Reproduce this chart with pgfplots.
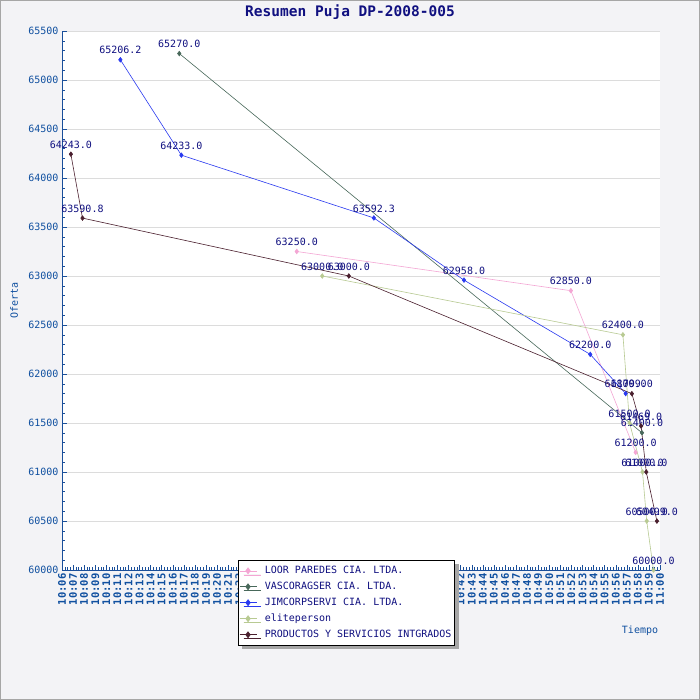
\documentclass[border=0pt]{standalone}
\usepackage{pgfplots}
\pgfplotsset{compat=1.18}
\usepackage{fontspec}
\setmainfont{DejaVu Sans Mono}
\usetikzlibrary{shadows}
\definecolor{bgc}{HTML}{F3F3F6}
\definecolor{axc}{HTML}{1A4F9A}
\definecolor{tlc}{HTML}{1050A0}
\definecolor{navy}{HTML}{101080}
\definecolor{gridc}{HTML}{DCDCDC}
\definecolor{cloor}{HTML}{F4A6D4}
\definecolor{cvasco}{HTML}{48685A}
\definecolor{cjim}{HTML}{2A3AF0}
\definecolor{celite}{HTML}{B8CA92}
\definecolor{cprod}{HTML}{4A1F2E}
\begin{document}
\begin{tikzpicture}[x=1pt,y=1pt]
\fill[bgc] (0,0) rectangle (700,700);
\useasboundingbox (0,0) rectangle (700,700);
\draw[gray!70,line width=0.8pt] (0.4,0.4) rectangle (699.6,699.6);
\begin{axis}[
  at={(62pt,130pt)}, anchor=south west,
  scale only axis, width=598pt, height=539pt,
  axis background/.style={fill=white},
  xmin=6, xmax=60, ymin=60000, ymax=65500,
  axis x line*=bottom, axis y line*=left,
  axis line style={draw=axc, line width=0.8pt},
  every tick/.style={draw=axc},
  tick align=inside,
  major tick length=5pt, minor tick length=2.5pt,
  xtick={6,...,60},
  xticklabels={10:06,10:07,10:08,10:09,10:10,10:11,10:12,10:13,10:14,10:15,10:16,10:17,10:18,10:19,10:20,10:21,10:22,10:23,10:24,10:25,10:26,10:27,10:28,10:29,10:30,10:31,10:32,10:33,10:34,10:35,10:36,10:37,10:38,10:39,10:40,10:41,10:42,10:43,10:44,10:45,10:46,10:47,10:48,10:49,10:50,10:51,10:52,10:53,10:54,10:55,10:56,10:57,10:58,10:59,11:00},
  minor x tick num=3,
  ytick={60000,60500,...,65500},
  scaled y ticks=false,
  minor y tick num=4,
  ymajorgrids, major grid style={draw=gridc, line width=0.8pt},
  x tick label style={rotate=90, anchor=east, font=\fontsize{10.5}{12}\selectfont\bfseries, text=tlc},
  y tick label style={font=\fontsize{10}{12}\selectfont, text=tlc},
  /pgf/number format/fixed,
  /pgf/number format/set thousands separator={},
  /pgf/number format/assume math mode=true,
  xlabel={Tiempo},
  xlabel style={at={(axis description cs:0.9666,-0.113)}, anchor=center, font=\fontsize{10}{12}\selectfont, text=tlc},
  ylabel={Oferta},
  ylabel style={at={(axis description cs:-0.08,0.5)}, anchor=center, font=\fontsize{10}{12}\selectfont, text=tlc},
  title={\textbf{Resumen Puja DP-2008-005}},
  every axis title shift=0pt,
  title style={at={(axis description cs:0.4816,1.0353)}, anchor=center, yshift=0pt, font=\fontsize{14.5}{16}\selectfont, text=navy},
  clip=false,
  every axis plot/.append style={line width=0.6pt, mark=diamond*, mark size=2.3pt},
  nodes near coords={\pgfmathprintnumber[fixed,fixed zerofill,precision=1,set thousands separator={},assume math mode=true]{\pgfplotspointmeta}},
  every node near coord/.style={anchor=south, font=\fontsize{10}{12}\selectfont, text=navy, inner sep=1pt, yshift=4.5pt},
  legend image post style={mark size=3pt},
  legend style={at={(axis description cs:0.294,0.0186)}, anchor=north west, draw=black, line width=0.8pt, fill=white, font=\fontsize{10}{12}\selectfont, text=navy, legend cell align=left, row sep=3pt, inner xsep=1pt, inner ysep=4pt, /tikz/every odd column/.style={column sep=6pt}, /tikz/every even column/.style={column sep=12pt}, drop shadow={shadow xshift=4pt, shadow yshift=-4pt, fill=gray!70, opacity=1}},
]
\addplot[color=cloor, mark options={fill=cloor}] coordinates {(27.2,63250) (51.95,62850) (57.8,61200)};
\addlegendentry{LOOR PAREDES CIA. LTDA.}
\addplot[color=cvasco, mark options={fill=cvasco}] coordinates {(16.59,65270) (58.37,61400)};
\addlegendentry{VASCORAGSER CIA. LTDA.}
\addplot[color=cjim, mark options={fill=cjim}] coordinates {(11.27,65206.2) (16.78,64233) (34.16,63592.3) (42.3,62958) (53.7,62200) (56.9,61800)};
\addlegendentry{JIMCORPSERVI CIA. LTDA.}
\addplot[color=celite, mark options={fill=celite}] coordinates {(29.5,63000) (56.65,62400) (57.25,61500) (58.42,61000) (58.8,60500) (59.41,60000)};
\addlegendentry{eliteperson}
\addplot[color=cprod, mark options={fill=cprod}] coordinates {(6.8,64243) (7.85,63590.8) (31.9,63000) (57.46,61799) (58.29,61469) (58.76,61000) (59.72,60499)};
\addlegendentry{PRODUCTOS Y SERVICIOS INTGRADOS}
\end{axis}
\end{tikzpicture}
\end{document}
